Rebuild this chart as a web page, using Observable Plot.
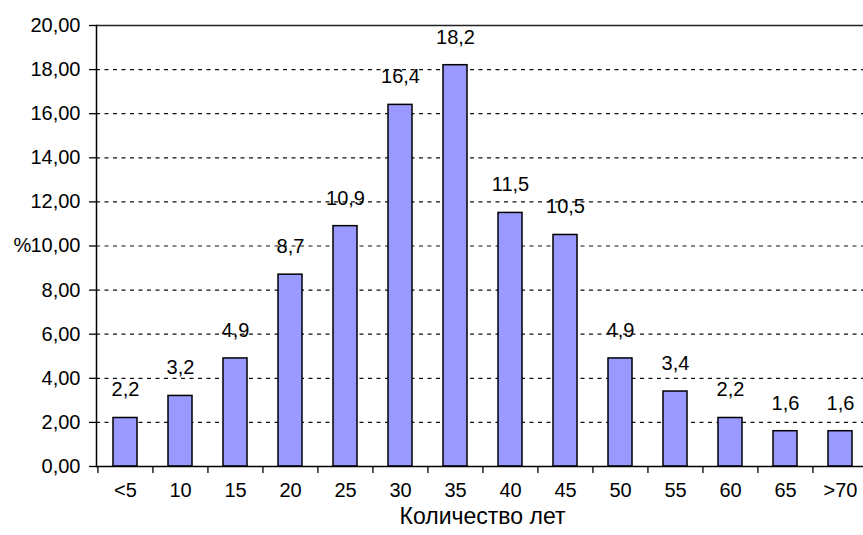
<!DOCTYPE html>
<html>
<head>
<meta charset="utf-8">
<script src="https://cdn.jsdelivr.net/npm/d3@7"></script>
<script src="https://cdn.jsdelivr.net/npm/@observablehq/plot@0.6"></script>
<style>
  body { margin: 0; background: #fff; }
  #chart svg { display: block; }
</style>
</head>
<body>
<div id="chart"></div>
<script>
const categories = ["<5", "10", "15", "20", "25", "30", "35", "40", "45", "50", "55", "60", "65", ">70"];
const values = [2.2, 3.2, 4.9, 8.7, 10.9, 16.4, 18.2, 11.5, 10.5, 4.9, 3.4, 2.2, 1.6, 1.6];
const yTicks = [0, 2, 4, 6, 8, 10, 12, 14, 16, 18, 20];
const xTitle = "Количество лет";
const yTitle = "%";

const data = categories.map((c, i) => ({cat: c, val: values[i]}));
const comma = (v, n) => v.toFixed(n).replace(".", ",");

const W = 863, H = 535, mL = 96, mR = -5, mT = 25, mB = 69;
const step = (W - mR - mL) / categories.length;
const font = "'Liberation Sans', Arial, sans-serif";

const chart = Plot.plot({
  width: W,
  height: H,
  marginLeft: mL,
  marginRight: mR,
  marginTop: mT,
  marginBottom: mB,
  style: {fontFamily: font, color: "#000", background: "#fff", overflow: "hidden"},
  x: {type: "band", domain: categories, paddingInner: 0.57, paddingOuter: 0.285},
  y: {domain: [0, 20]},
  marks: [
    Plot.gridY(yTicks.filter(t => t > 0 && t < 20), {stroke: "#111", strokeOpacity: 1, strokeWidth: 1.2, strokeDasharray: "4,4.5"}),
    Plot.ruleY([20], {stroke: "#222", strokeWidth: 1.6}),
    Plot.barY(data, {x: "cat", y: "val", fill: "#9999ff", stroke: "#000", strokeWidth: 1.5}),
    Plot.ruleY([0], {stroke: "#000", strokeWidth: 1.5}),
    Plot.frame({anchor: "left", stroke: "#000", strokeWidth: 1.5}),
    Plot.axisY({ticks: yTicks, tickSize: 7, tickPadding: 9, tickFormat: d => comma(d, 2), fontSize: 20, label: null, stroke: "#000", strokeWidth: 1.3, strokeOpacity: 1}),
    Plot.axisX({ticks: categories, tickSize: 7, text: null, dx: -step / 2, label: null, stroke: "#000", strokeWidth: 1.3, strokeOpacity: 1}),
    Plot.axisX({ticks: categories, tickSize: 0, tickPadding: 16, fontSize: 20, label: null}),
    Plot.text(data, {x: "cat", y: "val", text: d => comma(d.val, 1), dy: -28, fontSize: 20, fill: "#000"}),
    Plot.text([yTitle], {y: [10], text: d => d, frameAnchor: "left", textAnchor: "start", dx: -83, fontSize: 20, fill: "#000"}),
    Plot.text([xTitle], {text: d => d, frameAnchor: "bottom", dy: 57, fontSize: 23, fill: "#000"})
  ]
});
document.getElementById("chart").appendChild(chart);
</script>
</body>
</html>
